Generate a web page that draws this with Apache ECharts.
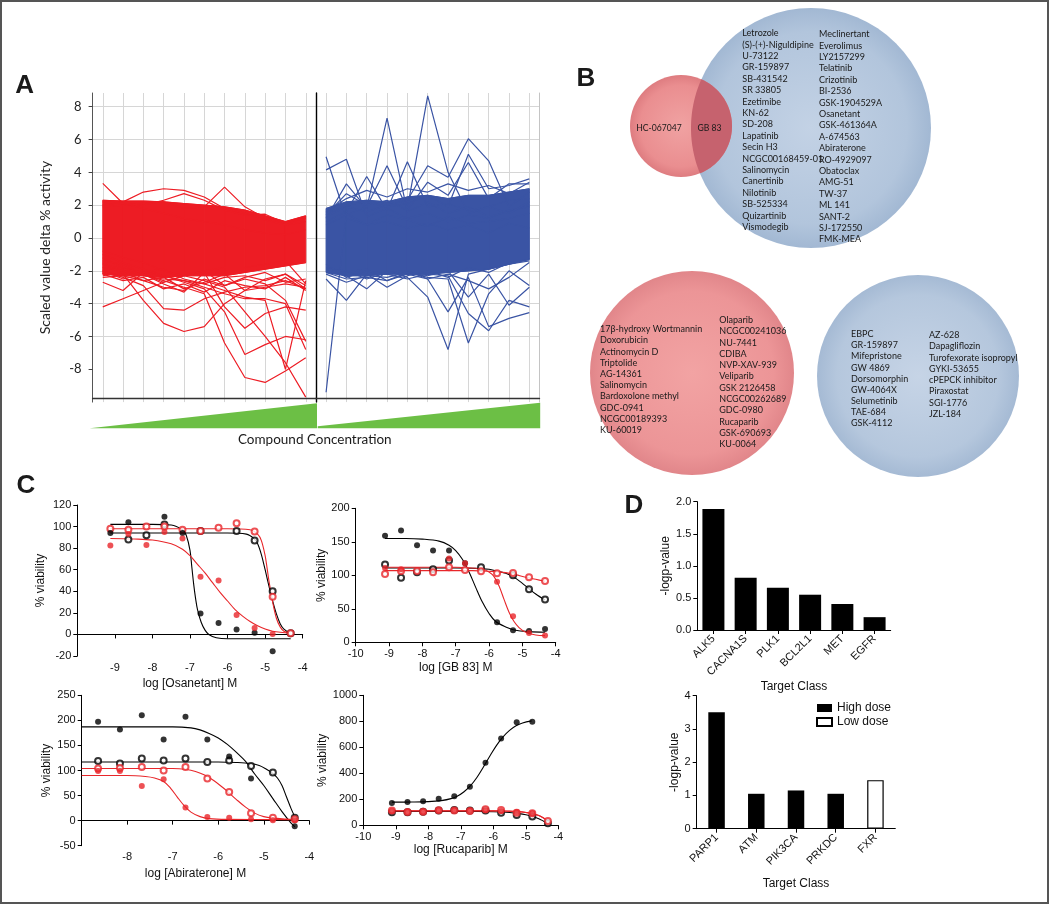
<!DOCTYPE html>
<html><head><meta charset="utf-8">
<script src="https://cdn.jsdelivr.net/npm/echarts@6/dist/echarts.min.js"></script>
<style>html,body{margin:0;padding:0;background:#fff}#c{width:1050px;height:905px}</style>
</head><body><div id="c"></div>
<script>
// ---------------- Panel A data (11 concentration steps per half) ----------------
const aTickValues = [-8, -6, -4, -2, 0, 2, 4, 6, 8];
const aRedBandHigh = [2.3, 2.25, 2.25, 2.2, 2.1, 2.0, 1.9, 1.7, 1.35, 1.0, 1.35];
const aRedBandLow  = [-2.2, -2.3, -2.3, -2.4, -2.3, -2.3, -2.3, -2.1, -1.9, -1.7, -1.5];
const aBlueBandHigh = [1.8, 2.2, 2.3, 2.2, 2.5, 2.6, 2.4, 2.6, 2.6, 2.8, 3.0];
const aBlueBandLow  = [-2.1, -2.3, -2.3, -2.2, -2.2, -2.2, -2.1, -2.0, -1.9, -1.6, -1.3];
const aRedLines = [
  [3.33, 2.1, 1.8, 1.5, 1.2, 1.0, 0.8, 0.5, 0.3, 0.2, 0.5],
  [-4.2, -3.7, -3.2, -2.7, -2.3, -2.0, -1.8, -1.8, -1.6, -1.4, -2.8],
  [-2.7, -3.2, -2.1, -1.9, -2.5, -2.8, -2.4, -2.3, -2.6, -2.2, -3.1],
  [-1.5, -2.2, -3.8, -5.2, -5.7, -5.4, -4.0, -3.2, -3.0, -2.8, -3.0],
  [-2.0, -2.4, -2.9, -4.3, -4.4, -3.7, -3.3, -3.0, -2.9, -2.6, -3.1],
  [-1.2, -1.8, -2.2, -2.6, -3.0, -3.4, -6.4, -8.5, -8.8, -8.1, -7.3],
  [-1.0, -1.5, -1.9, -2.3, -2.7, -3.1, -4.5, -7.1, -6.5, -6.0, -6.2],
  [-1.4, -1.6, -2.2, -2.8, -3.3, -2.1, -4.2, -5.5, -4.6, -4.2, -4.4],
  [-0.8, -1.2, -1.5, -2.0, -2.3, -2.6, -3.0, -4.5, -6.0, -7.6, -9.7],
  [-1.8, -2.0, -2.3, -2.5, -2.6, -2.8, -3.2, -3.6, -3.8, -8.0, -2.6],
  [-1.6, -1.9, -2.1, -2.3, -2.6, -3.0, -3.4, -3.7, -3.7, -4.0, -6.8],
  [2.0, 2.2, 2.8, 3.0, 2.9, 2.5, 1.8, 1.5, 1.1, 0.8, 1.0],
  [1.9, 2.0, 2.1, 2.2, 1.8, 1.9, 3.1, 1.9, 1.2, 0.9, 1.2],
  [2.2, 2.1, 2.0, 2.3, 2.7, 2.3, 1.7, 1.4, 1.45, 0.9, 1.3],
  [-2.4, -2.3, -2.6, -3.0, -3.2, -2.5, -2.9, -2.5, -2.8, -3.8, -6.3],
  [-2.2, -2.6, -2.4, -3.1, -2.8, -3.3, -2.6, -2.9, -3.1, -2.4, -3.2],
  [-2.0, -2.5, -2.2, -2.7, -2.3, -2.0, -2.9, -2.4, -2.1, -2.7, -2.5],
  [-2.3, -2.1, -2.6, -2.4, -3.1, -2.7, -2.2, -3.2, -2.5, -2.2, -2.9]
];
const aBlueLines = [
  [-9.4, 1.5, 0.8, 1.0, 0.6, 0.9, 0.5, 0.8, 0.3, 0.9, 0.6],
  [4.95, 1.2, 0.8, 1.4, 1.1, 0.7, 1.3, 0.9, 1.0, 1.2, 1.5],
  [4.15, 4.8, 1.3, 1.8, 1.2, 1.5, 1.0, 1.4, 1.2, 1.7, 1.9],
  [1.2, 3.3, 1.8, 7.3, 1.6, 2.2, 1.5, 1.9, 1.3, 1.6, 2.0],
  [1.0, 1.6, 3.75, 1.7, 4.65, 1.9, 2.1, 1.7, 1.9, 1.5, 2.2],
  [0.8, 1.4, 1.9, 4.4, 1.8, 8.66, 4.0, 1.5, 1.9, 2.3, 2.4],
  [1.3, 1.9, 1.6, 2.0, 2.3, 4.4, 3.7, 6.05, 4.7, 1.9, 2.8],
  [1.5, 2.0, 2.2, 1.9, 2.1, 2.6, 1.9, 5.1, 3.0, 3.2, 3.6],
  [1.4, 2.7, 2.0, 2.3, 1.7, 3.4, 2.6, 4.6, 2.4, 3.3, 3.3],
  [1.6, 2.4, 2.9, 2.5, 3.0, 2.8, 3.3, 2.9, 3.2, 2.7, 3.4],
  [-2.5, -3.8, -2.2, -3.0, -2.3, -2.0, -2.4, -1.8, -2.1, -1.5, -1.3],
  [-2.0, -2.3, -3.1, -2.0, -2.4, -3.6, -6.8, -2.2, -1.9, -1.6, -1.4],
  [-1.8, -2.1, -1.9, -2.6, -2.1, -2.4, -2.5, -6.4, -3.4, -2.0, -2.9],
  [-1.6, -2.4, -2.0, -2.2, -2.5, -2.2, -2.3, -4.6, -5.65, -3.8, -4.2],
  [-1.9, -2.0, -2.5, -2.1, -2.0, -2.5, -4.5, -2.4, -5.4, -4.9, -4.55],
  [-2.2, -2.7, -2.3, -2.4, -2.1, -2.3, -2.0, -3.6, -2.2, -4.1, -3.0],
  [-2.1, -2.5, -2.4, -2.6, -2.2, -2.5, -2.2, -2.6, -3.1, -2.4, -1.5]
];

// ---------------- Panel B lists ----------------
const vennOnlyRed = 'HC-067047';
const vennShared = 'GB 83';
const vennBigLeft = ['Letrozole','(S)-(+)-Niguldipine','U-73122','GR-159897','SB-431542','SR 33805','Ezetimibe','KN-62','SD-208','Lapatinib','Secin H3','NCGC00168459-01','Salinomycin','Canertinib','Nilotinib','SB-525334','Quizartinib','Vismodegib'];
const vennBigRight = ['Meclinertant','Everolimus','LY2157299','Telatinib','Crizotinib','BI-2536','GSK-1904529A','Osanetant','GSK-461364A','A-674563','Abiraterone','RO-4929097','Obatoclax','AMG-51','TW-37','ML 141','SANT-2','SJ-172550','FMK-MEA'];
const vennRedLeft = ['17β-hydroxy Wortmannin','Doxorubicin','Actinomycin D','Triptolide','AG-14361','Salinomycin','Bardoxolone methyl','GDC-0941','NCGC00189393','KU-60019'];
const vennRedRight = ['Olaparib','NCGC00241036','NU-7441','CDIBA','NVP-XAV-939','Veliparib','GSK 2126458','NCGC00262689','GDC-0980','Rucaparib','GSK-690693','KU-0064'];
const vennBlueLeft = ['EBPC','GR-159897','Mifepristone','GW 4869','Dorsomorphin','GW-4064X','Selumetinib','TAE-684','GSK-4112'];
const vennBlueRight = ['AZ-628','Dapagliflozin','Turofexorate isopropyl','GYKI-53655','cPEPCK inhibitor','Piraxostat','SGI-1776','JZL-184'];

// ---------------- Panel C data ----------------
const logConc = [-9.12, -8.64, -8.16, -7.68, -7.20, -6.72, -6.24, -5.76, -5.28, -4.80, -4.32];
const abiConc = [-8.64, -8.16, -7.68, -7.20, -6.72, -6.24, -5.76, -5.28, -4.80, -4.32];

const osaBlackFilled = [94, 104, null, 109, 94, 19.5, 10.5, 4.6, 1.5, -15.5, null];
const osaBlackOpen   = [null, 88, 92, 102, null, 96, null, 96, 87, 40, 1];
const osaRedFilled   = [82.5, 93, 83, 95, 89, 53.5, 50, 18, 6, 0.5, null];
const osaRedOpen     = [98, 97, 100, 100, 97, 96, 99, 103, 95.5, 35, 1];
const osaBlackFilledFit = [[-9.12,102],[-8,102],[-7.5,101.5],[-7.2,97],[-7.1,92],[-7.0,78],[-6.95,62],[-6.9,46],[-6.85,33],[-6.8,23],[-6.7,11],[-6.6,4],[-6.5,0],[-6.3,-3],[-6.0,-4],[-5.0,-4],[-4.32,-4]];
const osaBlackOpenFit = [[-9.12,94],[-6,94],[-5.5,93],[-5.3,89],[-5.2,84],[-5.1,74],[-5.0,60],[-4.9,45],[-4.8,31],[-4.7,19],[-4.6,10],[-4.5,5],[-4.32,1]];
const osaRedFilledFit = [[-9.12,89],[-8.5,88.5],[-8,87.5],[-7.5,84],[-7.2,79],[-7.0,73],[-6.8,65],[-6.6,57],[-6.4,48],[-6.2,39],[-6.0,31],[-5.8,23],[-5.6,17],[-5.4,12],[-5.2,8],[-5.0,5],[-4.8,3],[-4.32,1]];
const osaRedOpenFit = [[-9.12,98],[-6,98],[-5.4,97],[-5.2,93],[-5.1,87],[-5.0,73],[-4.95,62],[-4.9,50],[-4.85,40],[-4.8,30],[-4.7,15],[-4.6,7],[-4.5,3],[-4.32,1]];

const gbBlackFilled = [159, 167, 145, 137, 137, 118, null, 30, 18, 17, 20];
const gbBlackOpen   = [116, 96.5, 104.5, 109, 122, null, 112, null, 100, 79, 64];
const gbRedFilled   = [111, 109, null, null, 125, 118, null, 90.5, 39, 14, 10];
const gbRedOpen     = [102, 106.5, 106.5, 104.5, 112, 108, 106, 103, 103.5, 97, 91.5];
const gbBlackFilledFit = [[-9.12,155],[-8.5,155],[-8,154],[-7.5,151],[-7.2,145],[-7,137],[-6.8,124],[-6.6,105],[-6.4,82],[-6.2,60],[-6,43],[-5.8,31],[-5.5,23],[-5.2,18],[-4.8,16],[-4.32,15]];
const gbBlackOpenFit = [[-9.12,111],[-7,111],[-6.5,110.5],[-6,109],[-5.75,106],[-5.5,103],[-5.25,97],[-5,88],[-4.8,80],[-4.6,72],[-4.32,63]];
const gbRedFilledFit = [[-9.12,112],[-7,112],[-6.5,111],[-6.2,109],[-6,105],[-5.85,98],[-5.7,84],[-5.55,64],[-5.4,45],[-5.25,31],[-5.1,22],[-4.9,15],[-4.6,11],[-4.32,10]];
const gbRedOpenFit = [[-9.12,107],[-6.5,107],[-6,106],[-5.5,104],[-5.2,101],[-4.9,97],[-4.6,94],[-4.32,91]];

const abiBlackFilled = [197, 182, 210, 162, 207, 162, 128, 84, null, -11];
const abiBlackOpen   = [119, 114, 124, 120, 124, 117, 120, 109, 96, 6];
const abiRedFilled   = [99, 99, 69, 82.5, 26, 7.3, 6, 2.7, 0.7, 1];
const abiRedOpen     = [104, 105, 107, 100, 107, 84, 57, 14.6, 6, 3];
const abiBlackFilledFit = [[-9,187],[-7,187],[-6.6,185],[-6.4,181],[-6.2,174],[-6,165],[-5.8,152],[-5.6,136],[-5.4,118],[-5.2,93],[-5,70],[-4.8,44],[-4.6,18],[-4.4,-5],[-4.32,-12]];
const abiBlackOpenFit = [[-9,117],[-6,117],[-5.6,116],[-5.3,114],[-5.1,110],[-4.95,103],[-4.8,94],[-4.7,85],[-4.6,70],[-4.5,47],[-4.4,24],[-4.32,8]];
const abiRedFilledFit = [[-9,90],[-8,90],[-7.6,88],[-7.4,85],[-7.2,78],[-7.05,65],[-6.9,47],[-6.75,30],[-6.6,17],[-6.4,8],[-6.2,4],[-5.8,2.5],[-4.32,2]];
const abiRedOpenFit = [[-9,104],[-7,104],[-6.7,102],[-6.5,98],[-6.3,91],[-6.1,80],[-5.9,66],[-5.77,56],[-5.6,42],[-5.4,27],[-5.2,15],[-5,8],[-4.8,5],[-4.5,3],[-4.32,2]];

const rucBlackFilled = [172, 179.5, 185, 205, 223, 297, 482, 667, 792, 797, null];
const rucBlackOpen   = [100, 100, 105, 113, 118, 113, 113, 97, 79, 67, 15];
const rucRedFilled   = [110, 105, 105, 113, 115, 113, 115, 110, 103, 92, null];
const rucRedOpen     = [113, 103, 105, 115, 113, 110, 123, 118, 97, 92, 33];
const rucBlackFilledFit = [[-9.12,178],[-8.5,179],[-8,182],[-7.6,190],[-7.3,205],[-7.1,225],[-6.9,258],[-6.7,305],[-6.5,370],[-6.3,450],[-6.1,535],[-5.9,615],[-5.7,680],[-5.5,730],[-5.3,765],[-5.1,787],[-4.82,803]];
const rucBlackOpenFit = [[-9.12,106],[-6.5,106],[-6,104],[-5.5,98],[-5.2,90],[-5,81],[-4.8,68],[-4.6,50],[-4.45,32],[-4.32,16]];
const rucRedFilledFit = [[-9.12,111],[-6,111],[-5.5,108],[-5.2,104],[-5,98],[-4.8,90],[-4.6,75],[-4.45,55],[-4.32,35]];
const rucRedOpenFit = [[-9.12,112],[-6,112],[-5.5,109],[-5.2,105],[-5,99],[-4.8,91],[-4.6,76],[-4.45,56],[-4.32,33]];

// ---------------- Panel D data ----------------
const dTopCats = ['ALK5','CACNA1S','PLK1','BCL2L1','MET','EGFR'];
const dTopValues = [1.885, 0.815, 0.66, 0.55, 0.405, 0.2];
const dBotCats = ['PARP1','ATM','PIK3CA','PRKDC','FXR'];
const dBotHigh = [3.5, 1.05, 1.15, 1.05, '-'];
const dBotLow  = ['-', '-', '-', '-', 1.46];

// ---------------- styling ----------------
const FA = 'Lato, "Open Sans", sans-serif';
const FC = '"Liberation Sans", Arial, sans-serif';
const RED_A = '#ed1c24', BLUE_A = '#3a54a4';
const BLACK = '#000', RED_C = '#e8262a';
const GRIDC = '#d6d6d6';

const grids = [
  {left:92.6, top:93, width:223.3, height:309.1},
  {left:315.9, top:93, width:223.6, height:309.1},
  {left:77.3, top:505, width:225.4, height:151},
  {left:355.7, top:508.3, width:200, height:134},
  {left:81.7, top:695.3, width:227.6, height:150.4},
  {left:363.3, top:695.3, width:195, height:130},
  {left:697.3, top:501.7, width:193.4, height:128.3},
  {left:696.7, top:695.7, width:198.6, height:133}
].map(g => Object.assign({outerBoundsMode:'none', containLabel:false}, g));

function aX(gi) {
  return {type:'value', gridIndex:gi, min:0, max:22, interval:2, offset:-4,
    axisLine:{show:true, onZero:false, lineStyle:{color:'#333', width:1.4}},
    axisTick:{show:false}, axisLabel:{show:false}, splitLine:{show:false},
    minorTick:{show:false, splitNumber:2},
    minorSplitLine:{show:true, lineStyle:{color:GRIDC, width:1}}};
}
function aY(gi, showLabels) {
  return {type:'value', gridIndex:gi, min:-10, max:8.835, interval:2,
    axisLine:{show:true, lineStyle:{color: showLabels ? '#555' : '#000', width: showLabels ? 1 : 1.4}},
    axisTick:{show:showLabels, length:4, customValues:aTickValues, lineStyle:{color:'#444'}},
    axisLabel:{show:showLabels, fontFamily:FA, fontSize:13, color:'#222', margin:11, customValues:aTickValues,
      formatter: v => (Number.isInteger(v) && v !== -10) ? String(v) : ''},
    splitLine:{show:true, showMinLine:false, lineStyle:{color:GRIDC, width:1}},
    name: showLabels ? 'Scaled value delta % activity' : '', nameLocation:'middle', nameGap:40, nameRotate:90,
    nameTextStyle:{fontFamily:FA, fontSize:14, color:'#222'}};
}
function cX(gi, min, hideMin, name, gap) {
  return {type:'value', gridIndex:gi, min:min, max:-4, interval:1,
    axisLine:{show:true, onZero:true, lineStyle:{color:'#000', width:1}},
    axisTick:{show:true, length:4, lineStyle:{color:'#000'}},
    axisLabel:{fontFamily:FC, fontSize:11, color:'#111', margin:6,
      formatter: v => (hideMin && v === min) ? '' : String(v)},
    splitLine:{show:false},
    name:name, nameLocation:'middle', nameGap:gap, nameTextStyle:{fontFamily:FC, fontSize:12, color:'#111'}};
}
function cY(gi, min, max, interval, gap) {
  return {type:'value', gridIndex:gi, min:min, max:max, interval:interval,
    axisLine:{show:true, lineStyle:{color:'#000', width:1}},
    axisTick:{show:true, length:4, lineStyle:{color:'#000'}},
    axisLabel:{fontFamily:FC, fontSize:11, color:'#111', margin:6, formatter: v => String(v)},
    splitLine:{show:false},
    name:'% viability', nameLocation:'middle', nameGap:gap, nameRotate:90,
    nameTextStyle:{fontFamily:FC, fontSize:12, color:'#111'}};
}
function dX(gi, cats, gap) {
  return {type:'category', gridIndex:gi, data:cats,
    axisLine:{show:true, lineStyle:{color:'#000'}},
    axisTick:{show:true, alignWithLabel:true, length:4, lineStyle:{color:'#000'}},
    axisLabel:{interval:0, rotate:45, fontFamily:FC, fontSize:11, color:'#111', margin:7},
    name:'Target Class', nameLocation:'middle', nameGap:gap, nameTextStyle:{fontFamily:FC, fontSize:12, color:'#111'}};
}
function dY(gi, max, interval, fmt, gap) {
  return {type:'value', gridIndex:gi, min:0, max:max, interval:interval,
    axisLine:{show:true, lineStyle:{color:'#000'}},
    axisTick:{show:true, length:4, lineStyle:{color:'#000'}},
    axisLabel:{fontFamily:FC, fontSize:11, color:'#111', margin:6, formatter:fmt},
    splitLine:{show:false},
    name:'-logp-value', nameLocation:'middle', nameGap:gap, nameRotate:90,
    nameTextStyle:{fontFamily:FC, fontSize:12, color:'#111'}};
}

const xAxes = [aX(0), aX(1),
  cX(2, -10, true, 'log [Osanetant] M', 22),
  cX(3, -10, false, 'log [GB 83] M', 19),
  cX(4, -9, true, 'log [Abiraterone] M', 22),
  cX(5, -10, false, 'log [Rucaparib] M', 18),
  dX(6, dTopCats, 47), dX(7, dBotCats, 49)];
const yAxes = [aY(0, true), aY(1, false),
  cY(2, -20, 120, 20, 31), cY(3, 0, 200, 50, 24), cY(4, -50, 250, 50, 29), cY(5, 0, 1000, 200, 29),
  dY(6, 2, 0.5, v => v.toFixed(1), 21), dY(7, 4, 1, v => String(v), 14),
  {type:'value', gridIndex:1, position:'right', min:-10, max:8.835,
   axisLine:{show:true, lineStyle:{color:'#c4c4c4'}}, axisTick:{show:false}, axisLabel:{show:false}, splitLine:{show:false}}];

const series = [];
// dense core of the traces: filled band between low and high envelopes, drawn segment by segment
function band(gi, low, high, color) {
  const segs = [];
  for (let i = 0; i < low.length - 1; i++) segs.push([2*i+1, low[i], high[i], 2*i+3, low[i+1], high[i+1]]);
  series.push({type:'custom', coordinateSystem:'cartesian2d', xAxisIndex:gi, yAxisIndex:gi, silent:true, z:2,
    data: segs, encode:{x:[0,3], y:[1,2,4,5]},
    renderItem: (params, api) => {
      const p1 = api.coord([api.value(0), api.value(2)]);
      const p2 = api.coord([api.value(3), api.value(5)]);
      const p3 = api.coord([api.value(3), api.value(4)]);
      const p4 = api.coord([api.value(0), api.value(1)]);
      return {type:'polygon', shape:{points:[p1, p2, p3, p4]}, style:{fill:color, stroke:color, lineWidth:1}};
    }});
  [low, high].forEach(arr => series.push({type:'line', xAxisIndex:gi, yAxisIndex:gi, silent:true, symbol:'none',
    data: arr.map((v,i) => [2*i+1, v]), lineStyle:{color:color, width:1.2}, z:2}));
}
band(0, aRedBandLow, aRedBandHigh, RED_A);
band(1, aBlueBandLow, aBlueBandHigh, BLUE_A);
aRedLines.forEach(vals => series.push({type:'line', xAxisIndex:0, yAxisIndex:0, silent:true, symbol:'none',
  data: vals.map((v,i) => [2*i+1, v]), lineStyle:{color:RED_A, width:1.2}, z:3}));
aBlueLines.forEach(vals => series.push({type:'line', xAxisIndex:1, yAxisIndex:1, silent:true, symbol:'none',
  data: vals.map((v,i) => [2*i+1, v]), lineStyle:{color:BLUE_A, width:1.2}, z:3}));

function fit(gi, pairs, color) {
  series.push({type:'line', xAxisIndex:gi, yAxisIndex:gi, data:pairs, symbol:'none', smooth:0.35, silent:true,
    lineStyle:{color:color, width:1.1}, z:3});
}
function pts(gi, xs, ys, color, open) {
  const data = [];
  xs.forEach((x,i) => { if (ys[i] != null) data.push([x, ys[i]]); });
  series.push({type:'scatter', xAxisIndex:gi, yAxisIndex:gi, data:data, silent:true,
    symbol: open ? 'emptyCircle' : 'circle', symbolSize: 6,
    itemStyle: open ? {color:color, borderColor:color, borderWidth:1.1} : {color:color}, z: open ? 4 : 5});
}
const cSets = [
  [2, logConc, osaBlackFilled, osaBlackOpen, osaRedFilled, osaRedOpen, osaBlackFilledFit, osaBlackOpenFit, osaRedFilledFit, osaRedOpenFit],
  [3, logConc, gbBlackFilled, gbBlackOpen, gbRedFilled, gbRedOpen, gbBlackFilledFit, gbBlackOpenFit, gbRedFilledFit, gbRedOpenFit],
  [4, abiConc, abiBlackFilled, abiBlackOpen, abiRedFilled, abiRedOpen, abiBlackFilledFit, abiBlackOpenFit, abiRedFilledFit, abiRedOpenFit],
  [5, logConc, rucBlackFilled, rucBlackOpen, rucRedFilled, rucRedOpen, rucBlackFilledFit, rucBlackOpenFit, rucRedFilledFit, rucRedOpenFit]
];
cSets.forEach(s => {
  const [gi, xs, bf, bo, rf, ro, bff, bof, rff, rof] = s;
  fit(gi, bff, BLACK); fit(gi, bof, BLACK); fit(gi, rff, RED_C); fit(gi, rof, RED_C);
  pts(gi, xs, bo, BLACK, true); pts(gi, xs, ro, RED_C, true);
  pts(gi, xs, bf, BLACK, false); pts(gi, xs, rf, RED_C, false);
});

series.push({type:'bar', xAxisIndex:6, yAxisIndex:6, data:dTopValues, barWidth:22, itemStyle:{color:'#000'}, silent:true});
series.push({type:'bar', name:'High dose', xAxisIndex:7, yAxisIndex:7, data:dBotHigh, barWidth:16.5, barGap:'-100%', itemStyle:{color:'#000'}, silent:true});
series.push({type:'bar', name:'Low dose', xAxisIndex:7, yAxisIndex:7, data:dBotLow, barWidth:16.5, barGap:'-100%', itemStyle:{color:'#fff', borderColor:'#000', borderWidth:1.2}, silent:true});

// ---------------- graphics: Venn diagrams, panel letters, wedges ----------------
const g = [];
function txt(t, x, y, font, align) {
  g.push({type:'text', x:x, y:y, z:20, silent:true,
    style:{text:t, font:font, fill:'#1a1a1a', textAlign:align||'left', align:align||'left', textVerticalAlign:'middle', verticalAlign:'middle'}});
}
function radial(c0, c1, c2) {
  return {type:'radial', x:0.5, y:0.5, r:0.5, colorStops:[{offset:0, color:c0},{offset:0.8, color:c1},{offset:1, color:c2}]};
}
// overlap region of the two top circles, as a polygon following both arcs
function lensPoints(c1, r1, c2, r2) {
  const dx = c2[0]-c1[0], dy = c2[1]-c1[1], d = Math.hypot(dx, dy);
  const a = (d*d + r1*r1 - r2*r2) / (2*d), h = Math.sqrt(r1*r1 - a*a);
  const base = Math.atan2(dy, dx);
  const t1 = Math.atan2(h, a);
  const t2 = Math.atan2(h, d - a);
  const pts = [];
  const N = 40;
  for (let k = 0; k <= N; k++) {
    const ang = base - t1 + 2*t1*k/N;
    pts.push([c1[0] + r1*Math.cos(ang), c1[1] + r1*Math.sin(ang)]);
  }
  for (let k = 0; k <= N; k++) {
    const ang = base + Math.PI - t2 + 2*t2*k/N;
    pts.push([c2[0] + r2*Math.cos(ang), c2[1] + r2*Math.sin(ang)]);
  }
  return pts;
}
const bigC = [811, 128], bigR = 120, smC = [681, 126], smR = 51;
g.push({type:'circle', shape:{cx:bigC[0], cy:bigC[1], r:bigR}, style:{fill:radial('#c3d2e5','#b2c5dc','#a2b8d3')}, silent:true, z:1});
g.push({type:'circle', shape:{cx:smC[0], cy:smC[1], r:smR}, style:{fill:radial('#f0a2a2','#ea8e90','#de7c80')}, silent:true, z:2});
g.push({type:'polygon', shape:{points:lensPoints(smC, smR, bigC, bigR)}, style:{fill:'#c6626e'}, silent:true, z:3});
g.push({type:'circle', shape:{cx:692, cy:373, r:102}, style:{fill:radial('#f2a3a3','#ec9597','#e1868a')}, silent:true, z:1});
g.push({type:'circle', shape:{cx:918, cy:376, r:101}, style:{fill:radial('#c6d4e6','#b5c7dd','#a5bad4')}, silent:true, z:1});
const FV = '9px ' + FA;
txt(vennOnlyRed, 659, 128, '8.6px ' + FA, 'center');
txt(vennShared, 709.5, 128, '8.6px ' + FA, 'center');
vennBigLeft.forEach((t,i) => txt(t, 742.3, 33.3 + i*11.4, FV));
vennBigRight.forEach((t,i) => txt(t, 819, 34.3 + i*11.4, FV));
vennRedLeft.forEach((t,i) => txt(t, 600, 329.3 + i*11.2, FV));
vennRedRight.forEach((t,i) => txt(t, 719.3, 320 + i*11.3, FV));
vennBlueLeft.forEach((t,i) => txt(t, 851, 334.3 + i*11.1, FV));
vennBlueRight.forEach((t,i) => txt(t, 929, 335 + i*11.3, FV));

// panel letters
[['A',24.6,86],['B',586,79],['C',26,486],['D',634,506]].forEach(p => txt(p[0], p[1], p[2], 'bold 26px ' + FC, 'center'));
// concentration wedges
g.push({type:'polygon', shape:{points:[[89.7,428.3],[317,403.3],[317,428.3]]}, style:{fill:'#6cbf45'}, silent:true});
g.push({type:'polygon', shape:{points:[[317.7,426.3],[540.2,402.7],[540.2,428.3],[317.7,428.3]]}, style:{fill:'#6cbf45'}, silent:true});
txt('Compound Concentration', 314.8, 440, '13.5px ' + FA, 'center');
// outer frame
g.push({type:'rect', shape:{x:1, y:1, width:1047, height:902}, style:{fill:'none', stroke:'#555', lineWidth:2}, silent:true, z:50});

const chart = echarts.init(document.getElementById('c'), null, {renderer:'canvas'});
chart.setOption({
  animation:false,
  backgroundColor:'#fff',
  grid: grids,
  xAxis: xAxes,
  yAxis: yAxes,
  legend: {data:['High dose','Low dose'], left:811, top:697, orient:'vertical', itemWidth:15, itemHeight:8, itemGap:2,
    icon:'rect', textStyle:{fontFamily:FC, fontSize:12, color:'#111'}, selectedMode:false},
  series: series,
  graphic: g
});
</script></body></html>
